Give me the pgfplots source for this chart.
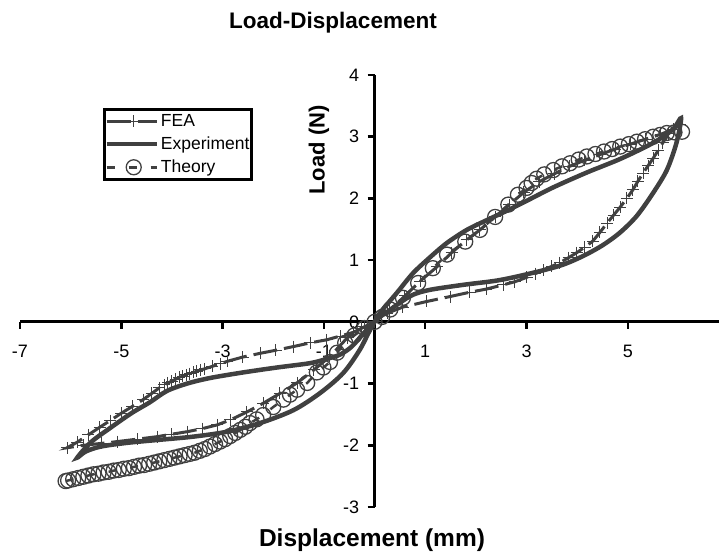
\documentclass[border=0pt]{standalone}
\usepackage{pgfplots}
\pgfplotsset{compat=1.18}
\usepackage{fontspec}
\setmainfont{Liberation Sans}
\definecolor{dg}{HTML}{404040}
\begin{document}
\begin{tikzpicture}
\begin{axis}[
  scale only axis, width=699bp, height=432bp,
  xmin=-7, xmax=6.8, ymin=-3, ymax=4,
  enlargelimits=false,
  axis lines=middle,
  axis line style={-, line width=3bp, black},
  xtick={-7,-5,-3,-1,1,3,5},
  ytick={-3,-2,-1,0,1,2,3,4},
  hide obscured x ticks=false,
  hide obscured y ticks=false,
  tick align=outside,
  major tick length=7bp,
  tick style={black, line width=2.5bp},
  tick label style={font=\fontsize{18bp}{20bp}\selectfont},
  xticklabel style={yshift=-13bp},
  yticklabel style={xshift=-5bp},
  /pgf/number format/assume math mode=true,
  clip=false,
  legend style={at={(0.1187,0.9236)}, anchor=north west, draw=black, line width=3bp, fill=white,
    font=\fontsize{17.5bp}{20bp}\selectfont, inner xsep=0bp, inner ysep=3bp, row sep=5bp,
    /tikz/every even column/.append style={column sep=1bp}},
  legend cell align=left,
  legend image code/.code={\draw[mark repeat=2,mark phase=2] plot coordinates {(0bp,0bp) (27bp,0bp) (50bp,0bp)};},
]
% FEA
\addplot[color=dg, mark=+, mark size=6bp, mark options={solid, line width=1bp}, line width=3bp, dash pattern=on 24bp off 7bp] coordinates {
(0,0) (0.3,0.19) (0.6,0.42) (0.9,0.66) (1.23,0.89) (1.52,1.12) (1.82,1.33) (2.08,1.49) (2.38,1.70) (2.66,1.9) (2.95,2.1) (3.25,2.27) (3.55,2.4) (3.85,2.52) (4.15,2.62) (4.45,2.71) (4.75,2.8) (5.05,2.88) (5.35,2.96) (5.65,3.04) (5.9,3.12) (6.02,3.2)
(5.8,3.05) (5.69,2.9) (5.6,2.78) (5.5,2.65) (5.4,2.53) (5.3,2.41) (5.2,2.28) (5.1,2.14) (4.98,2.0) (4.85,1.86) (4.72,1.73) (4.59,1.6) (4.45,1.45) (4.31,1.31) (4.15,1.21) (3.99,1.12) (3.83,1.04) (3.66,0.96) (3.5,0.9) (3.33,0.84) (3.17,0.78) (3.0,0.72) (2.77,0.65) (2.54,0.6) (2.2,0.53) (1.88,0.48) (1.49,0.41) (1.03,0.33) (0.56,0.24) (0.25,0.14) (0,0)
(-0.25,-0.1) (-0.54,-0.26) (-0.88,-0.56) (-1.2,-0.78) (-1.53,-0.99) (-1.87,-1.16) (-2.2,-1.32) (-2.52,-1.46) (-2.85,-1.59) (-3.11,-1.67) (-3.4,-1.73) (-3.7,-1.78) (-4.0,-1.82) (-4.29,-1.86) (-4.68,-1.9) (-5.08,-1.94) (-5.4,-1.97) (-5.75,-2.0) (-6.07,-2.04)
(-5.87,-1.95) (-5.65,-1.83) (-5.43,-1.71) (-5.22,-1.6) (-5.0,-1.48) (-4.78,-1.37) (-4.57,-1.26) (-4.4,-1.16) (-4.25,-1.07) (-4.15,-1.02) (-4.08,-0.99) (-4.0,-0.96) (-3.93,-0.93) (-3.86,-0.9) (-3.79,-0.88) (-3.72,-0.86) (-3.65,-0.84) (-3.58,-0.82) (-3.51,-0.8) (-3.44,-0.78) (-3.35,-0.76) (-3.2,-0.72) (-3.05,-0.68) (-2.91,-0.64) (-2.6,-0.57) (-2.26,-0.51) (-1.95,-0.46) (-1.6,-0.4) (-1.27,-0.34) (-0.94,-0.29) (-0.68,-0.23) (-0.42,-0.17) (-0.2,-0.08) (0,0)
};
\addlegendentry{FEA}
% Experiment
\addplot[color=dg, line width=4.5bp, smooth, no marks] coordinates {
(0,0) (0.11,0.15) (0.44,0.47) (0.76,0.79) (1.1,1.05) (1.43,1.28) (1.82,1.49) (2.22,1.65) (2.61,1.8) (3.0,1.96) (3.53,2.18) (4.19,2.42) (4.85,2.64) (5.5,2.9) (5.89,3.12) (6.05,3.3)
(5.96,2.9) (5.77,2.46) (5.5,2.09) (5.18,1.72) (4.85,1.45) (4.5,1.24) (4.1,1.06) (3.66,0.91) (3.0,0.77) (2.42,0.67) (1.75,0.6) (1.1,0.52) (0.76,0.44) (0.5,0.31) (0.25,0.16) (0,0)
(-0.29,-0.45) (-0.62,-0.83) (-1.07,-1.15) (-1.6,-1.43) (-2.26,-1.64) (-2.91,-1.78) (-3.58,-1.86) (-4.23,-1.91) (-4.88,-1.96) (-5.4,-2.02) (-5.7,-2.1) (-5.87,-2.2)
(-5.6,-1.95) (-5.22,-1.72) (-4.8,-1.48) (-4.43,-1.3) (-4.1,-1.12) (-3.7,-1.0) (-3.25,-0.91) (-2.6,-0.82) (-1.93,-0.74) (-1.28,-0.67) (-0.94,-0.6) (-0.68,-0.53) (-0.45,-0.4) (-0.2,-0.17) (0,0)
};
\addlegendentry{Experiment}
% Theory
\addplot[color=dg, mark=o, mark size=7.5bp, mark options={solid, line width=1.3bp}, line width=2.5bp, dash pattern=on 8bp off 14bp] coordinates {
(-6.1,-2.58) (-6.05,-2.57) (-5.95,-2.55) (-5.85,-2.53) (-5.75,-2.51) (-5.65,-2.49) (-5.55,-2.47) (-5.45,-2.46) (-5.35,-2.44) (-5.25,-2.43) (-5.15,-2.41) (-5.05,-2.40) (-4.95,-2.38) (-4.85,-2.37) (-4.75,-2.35) (-4.65,-2.33) (-4.55,-2.32) (-4.45,-2.30) (-4.35,-2.28) (-4.25,-2.26) (-4.15,-2.24) (-4.05,-2.22) (-3.95,-2.20) (-3.85,-2.18) (-3.75,-2.16) (-3.65,-2.14) (-3.55,-2.12) (-3.45,-2.09) (-3.35,-2.06) (-3.25,-2.02) (-3.15,-1.98) (-3.05,-1.94) (-2.95,-1.90) (-2.85,-1.85) (-2.75,-1.80) (-2.65,-1.75) (-2.55,-1.70) (-2.46,-1.64) (-2.33,-1.58) (-2.2,-1.51) (-2.0,-1.38) (-1.8,-1.26) (-1.67,-1.18) (-1.53,-1.10) (-1.33,-0.99) (-1.14,-0.82) (-1.01,-0.74) (-0.88,-0.65) (-0.74,-0.5) (-0.58,-0.34) (-0.4,-0.22) (-0.2,-0.1)
(0,0) (0.15,0.08) (0.31,0.2) (0.56,0.39) (0.86,0.63) (1.15,0.87) (1.43,1.09) (1.79,1.30) (2.08,1.49) (2.38,1.70) (2.64,1.90) (2.83,2.06) (3.0,2.17) (3.1,2.25) (3.2,2.32) (3.35,2.39) (3.53,2.46) (3.7,2.52) (3.86,2.57) (4.03,2.63) (4.19,2.68) (4.36,2.72) (4.53,2.76) (4.69,2.80) (4.85,2.84) (5.02,2.88) (5.18,2.92) (5.34,2.96) (5.5,3.0) (5.64,3.03) (5.77,3.06) (5.92,3.07) (6.07,3.08)
};
\addlegendentry{Theory}
\end{axis}
\node[font=\bfseries\fontsize{22.5bp}{26bp}\selectfont] at (313bp,484bp) {Load-Displacement};
\node[font=\bfseries\fontsize{24.5bp}{28bp}\selectfont] at (352bp,-33bp) {Displacement (mm)};
\node[rotate=90, font=\bfseries\fontsize{22bp}{26bp}\selectfont] at (299bp,357bp) {Load (N)};
\pgfresetboundingbox
\path[use as bounding box] (-20bp,-49bp) rectangle (702bp,507bp);
\end{tikzpicture}
\end{document}
